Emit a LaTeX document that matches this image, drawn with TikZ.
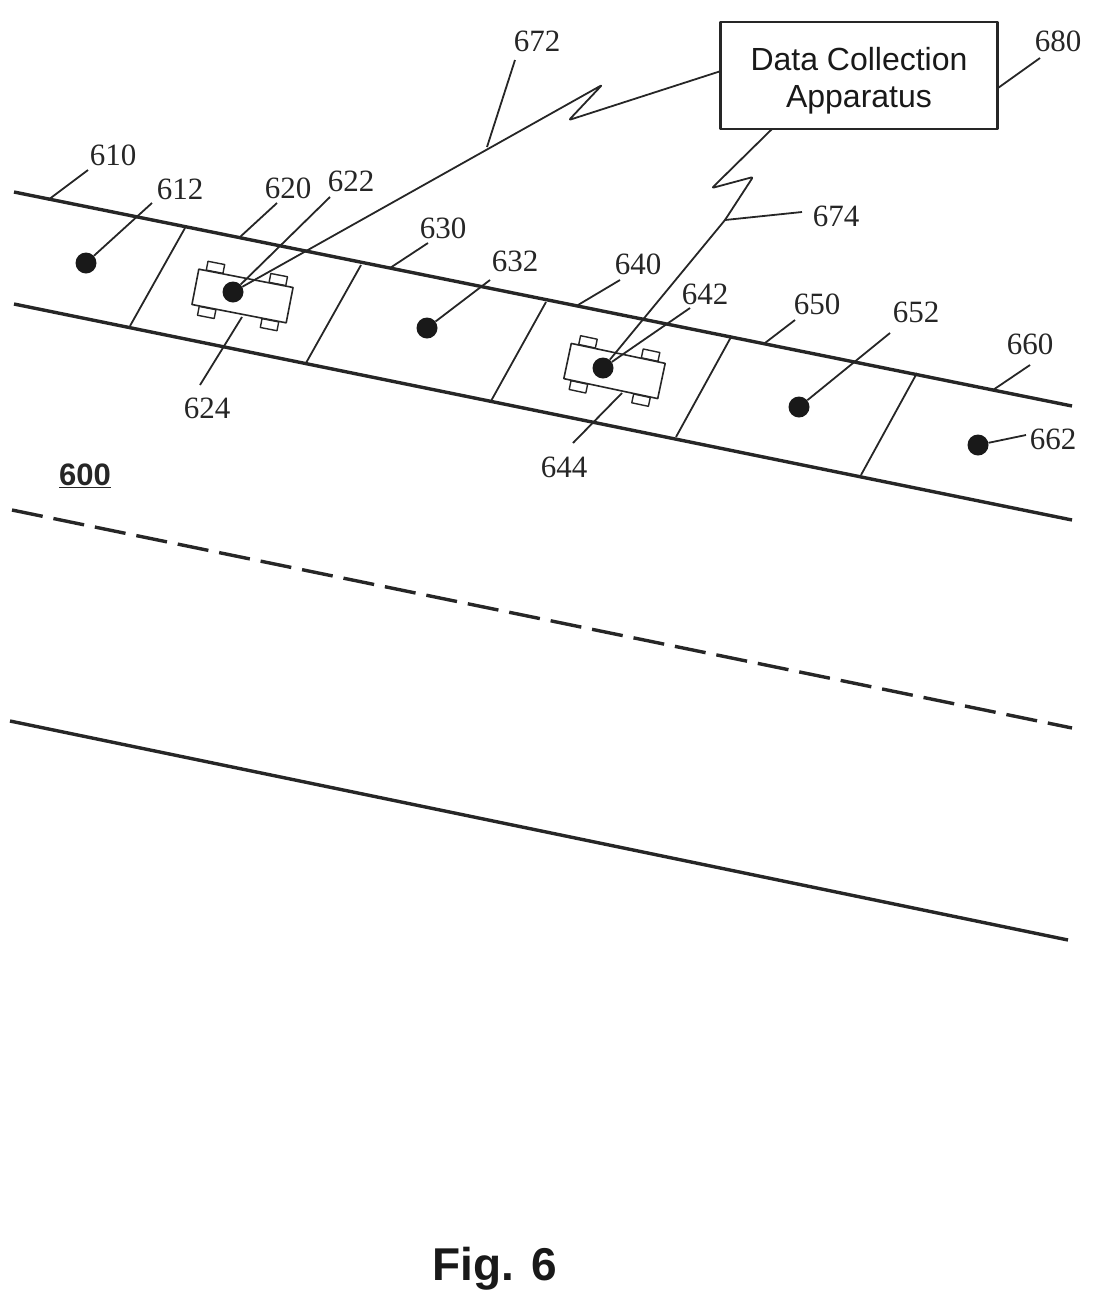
\documentclass[tikz,border=0pt]{standalone}
\usepackage{fontspec}
\setmainfont{Liberation Serif}
\newfontfamily\boxfont{Liberation Sans}
\begin{document}
\begin{tikzpicture}[x=1pt,y=-1pt,line join=round,
	road/.style={line width=3.4pt,color=black!85},
	thin line/.style={line width=1.8pt,color=black!85},
	tag/.style={font=\fontsize{31}{31}\selectfont,inner sep=0pt,color=black!85},
	dot/.style={circle,fill=black!90,inner sep=0pt,minimum size=21pt},
	carbody/.style={draw=black!85,fill=white,line width=1.6pt,inner sep=0pt,minimum width=96pt,minimum height=36pt,transform shape},
	wheel/.style={draw=black!85,fill=white,line width=1.4pt,inner sep=0pt,minimum width=17pt,minimum height=9pt,transform shape},
	unit/.style={draw=black!85,line width=2.2pt,inner sep=0pt,minimum width=277pt,minimum height=107pt},
	unit text/.style={align=center,inner sep=0pt,color=black!90,font=\boxfont\fontsize{32}{37}\selectfont}]
	\useasboundingbox (0,0) rectangle (1093,1291);
	% road edges
	\draw[road] (14,192) -- (1072,406);
	\draw[road] (14,304) -- (1072,520);
	\draw[road,dash pattern=on 31.3pt off 11pt] (12,510) -- (1072,728);
	\draw[road] (10,721) -- (1068,940);
	% zones
	\foreach \xa/\ya/\xb/\yb in {185/228/130/326,361/265/306/363,546/302/491/401,731/337/676/437,917/373/861/475}
		\draw[thin line] (\xa,\ya) -- (\xb,\yb);
	% cars
	\foreach \n/\x/\y/\r in {1/242.5/296/-11,2/614.5/371/-12} {
		\begin{scope}[shift={(\x,\y)},rotate=\r]
			\foreach \w/\wx/\wy in {a/-32/-23,b/32/-23,c/-32/23,d/32/23}
				\node[wheel] (wheel\n\w) at (\wx,\wy) {};
			\node[carbody] (car\n) at (0,0) {};
		\end{scope}
	}
	% labels
	\foreach \n/\x/\y in {610/113/155,612/180/189,620/288/188,622/351/181,624/207/408,630/443/228,632/515/261,640/638/264,642/705/294,644/564/467,650/817/304,652/916/312,660/1030/344,662/1053/439,672/537/41,674/836/216,680/1058/41}
		\node[tag] (lbl\n) at (\x,\y) {\n};
	\node[font=\bfseries\boxfont\fontsize{31}{31}\selectfont,inner sep=0pt,color=black!85] (lbl600) at (85,476) {\underline{600}};
	\node[font=\bfseries\boxfont\fontsize{46}{46}\selectfont,inner sep=0pt,color=black!90] (figlabel) at (495,1269) {Fig. 6};
	% detection points
	\foreach \n/\x/\y in {612/86/263,622/233/292,632/427/328,642/603/368,652/799/407,662/978/445}
		\node[dot] (dot\n) at (\x,\y) {};
	\node[unit] (dca) at (859,75.5) {};
	\node[unit text] (dcatext) at (859,81) {Data Collection\\Apparatus};
	% leader ends
	\foreach \n/\x/\y in {a/48/200,b/88/170,c/152/203,d/240/237,e/277/203,f/330/197,g/242/317,h/200/385,i/390/268,j/428/243,k/490/280,l/578/305,m/620/280,n/690/308,o/622/393,p/573/443,q/765/343,r/795/320,s/890/333,t/993/390,u/1030/365,v/1026/435,w/998/88,x/1040/58,y/515/60,z/487/147}
		\coordinate (end\n) at (\x,\y);
	\draw[thin line] (enda) -- (endb);
	\draw[thin line] (dot612) -- (endc);
	\draw[thin line] (endd) -- (ende);
	\draw[thin line] (dot622) -- (endf);
	\draw[thin line] (endg) -- (endh);
	\draw[thin line] (endi) -- (endj);
	\draw[thin line] (dot632) -- (endk);
	\draw[thin line] (endl) -- (endm);
	\draw[thin line] (dot642) -- (endn);
	\draw[thin line] (endo) -- (endp);
	\draw[thin line] (endq) -- (endr);
	\draw[thin line] (dot652) -- (ends);
	\draw[thin line] (endt) -- (endu);
	\draw[thin line] (dot662) -- (endv);
	\draw[thin line] (endw) -- (endx);
	\draw[thin line] (endy) -- (endz);
	% wireless links
	\coordinate (link1) at (721,71);
	\coordinate (link2) at (772,129);
	\coordinate (tap674) at (725,220);
	\draw[thin line,rounded corners=2pt] (link1) -- (569,120) -- (602,85) -- (dot622);
	\draw[thin line,rounded corners=2pt] (link2) -- (712,188) -- (753,177) -- (tap674) -- (dot642);
	\draw[thin line] (tap674) -- (802,212);
\end{tikzpicture}
\end{document}
